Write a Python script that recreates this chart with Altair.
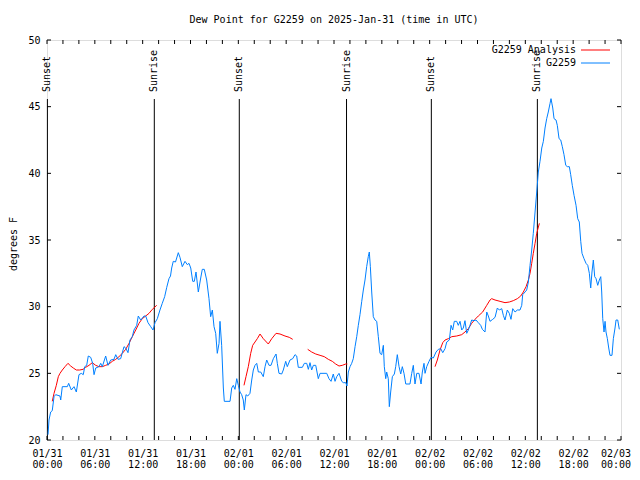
import json
import altair as alt
import pandas as pd

TITLE = "Dew Point for G2259 on 2025-Jan-31 (time in UTC)"
Y_TITLE = "degrees F"
MONO = "DejaVu Sans Mono"

# hours since 2025-01-31 00:00 UTC
obs_hours = [0.13, 0.25, 0.46, 0.66, 0.88, 1.09, 1.63, 1.72, 1.92, 2.55, 2.72, 3.05, 3.39, 3.68,
             4.01, 4.30, 4.55, 4.73, 4.98, 5.18, 5.48, 5.73, 5.90, 6.11, 6.52, 6.74, 6.94, 7.36,
             7.65, 7.99, 8.40, 8.62, 8.91, 9.24, 9.66, 9.87, 10.16, 10.41, 10.70, 10.91, 11.25,
             11.45, 11.75, 12.17, 12.38, 12.67, 13.01, 13.30, 13.55, 13.84, 14.17, 14.46, 14.76,
             15.02, 15.30, 15.49, 15.64, 15.84, 16.12, 16.47, 16.68, 16.97, 17.31, 17.60, 17.81,
             18.03, 18.28, 18.48, 18.69, 18.98, 19.28, 19.48, 19.73, 20.03, 20.32, 20.53, 20.74,
             20.95, 21.16, 21.36, 21.58, 21.70, 21.91, 22.12, 22.24, 22.96, 23.17, 23.37, 23.58,
             23.80, 24.00, 24.21, 24.42, 24.62, 24.75, 24.96, 25.18, 25.46, 25.68, 25.88, 26.09,
             26.31, 26.51, 26.81, 27.13, 27.35, 27.56, 27.85, 28.10, 28.39, 28.73, 28.89, 29.10,
             29.44, 29.64, 29.94, 30.14, 30.48, 30.82, 31.11, 31.32, 31.52, 32.03, 32.28, 32.58,
             32.78, 32.99, 33.20, 33.41, 33.71, 34.03, 34.25, 35.09, 35.37, 35.63, 35.91, 36.13,
             36.34, 36.63, 36.97, 37.17, 37.47, 37.63, 37.80, 38.01, 38.22, 38.42, 38.64, 38.85,
             39.05, 39.26, 39.48, 39.68, 39.89, 40.10, 40.30, 40.43, 40.56, 40.73, 40.93, 41.14,
             41.36, 41.56, 41.77, 41.98, 42.19, 42.31, 42.49, 42.61, 42.81, 42.94, 43.11, 43.32,
             43.57, 43.74, 43.94, 44.16, 44.37, 44.57, 44.78, 45.00, 45.53, 45.75, 45.95, 46.16,
             46.38, 46.66, 46.92, 47.08, 47.29, 47.42, 47.63, 47.92, 48.17, 48.46, 48.80, 49.09,
             49.39, 49.64, 49.93, 50.14, 50.47, 50.68, 50.89, 51.09, 51.39, 51.59, 51.81, 52.02,
             52.22, 52.43, 52.65, 52.85, 53.06, 53.27, 53.56, 53.81, 54.10, 54.40, 54.61, 54.94,
             55.16, 55.36, 55.57, 55.91, 56.20, 56.49, 56.74, 57.04, 57.24, 57.45, 57.74, 57.99,
             58.20, 58.42, 58.71, 59.00, 59.33, 59.55, 59.67, 59.96, 60.17, 60.38, 60.59, 60.80,
             61.00, 61.22, 61.43, 61.63, 61.84, 62.06, 62.26, 62.47, 62.68, 62.88, 63.10, 63.22,
             63.44, 63.60, 63.85, 64.01, 64.23, 64.44, 64.64, 64.85, 65.07, 65.27, 65.52, 65.69,
             65.89, 66.11, 66.36, 66.57, 66.77, 66.95, 67.11, 67.36, 67.61, 67.83, 68.03, 68.20,
             68.36, 68.53, 68.70, 68.87, 69.08, 69.28, 69.46, 69.58, 69.71, 69.87, 70.00, 70.12,
             70.29, 70.46, 70.62, 70.87, 71.04, 71.25, 71.38, 71.59, 71.79]
obs_values = [20.4, 21.5, 22.1, 22.2, 23.25, 23.4, 23.3, 23.0, 24.0, 24.0, 24.25, 23.75, 24.0, 23.6,
              24.9, 25.0, 24.9, 25.5, 25.6, 26.3, 26.2, 25.75, 24.9, 25.4, 25.5, 25.75, 25.5, 26.3,
              25.6, 26.0, 26.05, 26.4, 26.05, 26.1, 27.0, 26.9, 26.55, 27.5, 27.75, 28.25, 28.6,
              29.3, 29.0, 29.3, 29.3, 28.8, 28.5, 28.25, 28.8, 29.1, 29.75, 30.25, 30.75,
              31.45, 32.1, 32.3, 32.9, 33.4, 33.35, 34.05, 33.7, 33.0, 33.4, 33.15, 33.25,
              32.9, 31.9, 31.9, 32.6, 31.1, 32.15, 32.8, 32.8, 32.0, 30.6, 29.25, 29.75,
              28.5, 28.0, 26.5, 27.25, 28.9, 27.1, 23.9, 22.9, 22.9, 23.9, 24.1, 23.8,
              24.6, 24.1, 23.6, 23.4, 23.0, 22.25, 23.4, 23.3, 23.5, 24.5, 25.25, 25.6,
              25.75, 25.1, 25.1, 24.75, 25.5, 26.0, 25.6, 25.6, 26.1, 26.45, 25.75, 25.0,
              24.95, 25.25, 25.9, 25.5, 26.0, 26.1, 26.4, 26.3, 25.45, 25.45, 25.75, 25.75,
              25.3, 25.8, 25.25, 25.6, 25.6, 24.6, 25.0, 25.0, 24.6, 24.4, 24.95, 24.4,
              24.75, 25.0, 24.4, 24.3, 24.3, 24.05, 25.1, 25.5, 25.75, 26.1, 27.0, 27.75,
              28.6, 29.4, 30.4, 31.25, 32.0, 33.0, 33.75, 34.1, 33.0, 31.1, 29.25, 29.0,
              28.9, 27.75, 26.5, 26.4, 27.1, 25.5, 24.6, 25.1, 24.6, 22.5, 23.6, 24.75,
              24.95, 25.5, 26.4, 25.5, 24.95, 25.5, 25.0, 24.2, 24.2, 25.0, 25.6, 24.2,
              25.0, 25.0, 24.2, 25.1, 25.75, 25.0, 25.5, 25.9, 26.2, 26.15, 26.6, 26.8,
              26.85, 26.55, 26.85, 27.35, 27.5, 28.6, 28.25, 28.9, 28.9, 28.6, 28.9, 28.25,
              28.4, 28.95, 28.0, 28.25, 28.6, 29.0, 28.95, 29.0, 28.8, 28.6, 28.3, 28.1,
              29.6, 29.3, 28.9, 29.05, 29.2, 29.9, 29.75, 29.85, 29.35, 29.0, 29.75, 29.5,
              29.05, 29.85, 29.6, 29.75, 29.75, 30.1, 30.9, 31.1, 31.25, 31.85, 33.1, 34.25,
              35.5, 37.1, 38.6, 40.1, 40.9, 41.9, 42.4, 43.4, 44.1, 44.6, 45.25, 45.6,
              44.9, 44.1, 44.0, 43.6, 42.6, 42.5, 42.0, 41.4, 40.6, 40.5, 40.5, 39.9,
              39.1, 38.35, 37.6, 36.6, 36.35, 34.9, 34.0, 33.6, 33.25, 33.1, 32.5, 31.4,
              32.6, 33.5, 32.25, 32.1, 31.6, 32.0, 32.25, 31.1, 29.1, 28.1, 28.9, 28.1,
              27.6, 26.9, 26.35, 26.35, 27.6, 28.4, 29.0, 29.0, 28.3]

ana_hours = [0.66, 0.88, 1.17, 1.42, 1.63, 1.92, 2.26, 2.63, 2.97, 3.30, 3.68, 4.10, 4.52, 4.85,
             5.27, 5.68, 6.11, 6.52, 6.94, 7.36, 7.78, 8.19, 8.62, 9.03, 9.45, 9.87, 10.29, 10.70,
             11.13, 11.54, 11.95, 12.38, 12.80, 13.21, 13.76,
             24.71, 24.96, 25.25, 25.55, 25.80, 26.09, 26.38, 26.72, 27.13, 27.76, 28.19, 28.73,
             29.23, 29.85, 30.39, 30.82,
             32.70, 33.20, 33.71, 34.25, 34.78, 35.29, 35.79, 36.21, 36.63, 37.04, 37.47, 37.67,
             48.67, 48.96, 49.30, 49.64, 49.93, 50.34, 50.77, 51.39, 52.02, 52.43, 52.85, 53.27,
             53.69, 54.10, 54.65, 55.16, 55.57, 55.78, 56.20, 56.83, 57.45, 57.99, 58.49, 59.00,
             59.42, 59.75, 60.09, 60.38, 60.59, 60.80, 61.00, 61.22, 61.43, 61.76]
ana_values = [22.9, 23.5, 24.1, 24.75, 25.0, 25.25, 25.5, 25.75, 25.55, 25.4, 25.25, 25.25, 25.3, 25.45,
              25.6, 25.8, 25.6, 25.5, 25.5, 25.6, 25.7, 25.9, 26.05, 26.25, 26.5, 26.8, 27.25, 27.75,
              28.25, 28.75, 29.1, 29.3, 29.5, 29.8, 30.1,
              24.1, 24.75, 25.5, 26.5, 27.1, 27.35, 27.6, 27.95, 27.6, 27.2, 27.6, 28.0,
              27.95, 27.8, 27.7, 27.55,
              26.8, 26.6, 26.45, 26.35, 26.25, 26.05, 25.9, 25.7, 25.55, 25.6, 25.7, 25.7,
              25.5, 26.0, 26.75, 27.3, 27.5, 27.6, 27.75, 27.8, 27.9, 28.1, 28.35, 28.75,
              29.05, 29.3, 29.6, 30.1, 30.5, 30.6, 30.5, 30.4, 30.3, 30.35, 30.45, 30.6,
              30.8, 31.1, 31.5, 32.0, 32.5, 33.25, 34.0, 34.75, 35.5, 36.25]
ana_segment_lengths = [35, 16, 12, 34]

sun_hours = [0.05, 13.46, 24.12, 37.57, 48.21, 61.51]
sun_labels = ["Sunset", "Sunrise", "Sunset", "Sunrise", "Sunset", "Sunrise"]

series_names = ["G2259 Analysis", "G2259"]
series_colors = ["#ff0000", "#0080ff"]

y_ticks = [20, 25, 30, 35, 40, 45, 50]
x_minor_ticks = list(range(0, 73, 2))
x_label_hours = list(range(0, 73, 6))
day_labels = ["01/31", "02/01", "02/02", "02/03"]

W, H = 574, 400

ana_segment = []
for i, n in enumerate(ana_segment_lengths):
    ana_segment += [i + 1] * n

obs = pd.DataFrame({"h": obs_hours, "v": obs_values})
obs["series"] = series_names[1]
obs["seg"] = 0
ana = pd.DataFrame({"h": ana_hours, "v": ana_values, "seg": ana_segment})
ana["series"] = series_names[0]
sun = pd.DataFrame({"h": sun_hours, "label": sun_labels})
xt = pd.DataFrame({"h": x_minor_ticks})
yt = pd.DataFrame({"v": y_ticks})
one = pd.DataFrame({"a": [0]})
last_h = x_label_hours[-1]
last_lab = pd.DataFrame({"h": [last_h],
                         "day": [day_labels[last_h // 24]],
                         "hm": ["%02d:00" % (last_h % 24)]})

label_expr = ("[" + json.dumps(day_labels) + "[floor(datum.value/24)], "
              "(datum.value%24<10 ? '0' : '') + (datum.value%24) + ':00']")

xscale = alt.Scale(domain=[0, 72], nice=False, zero=False)
yscale = alt.Scale(domain=[20, 50], nice=False, zero=False)
xaxis = alt.Axis(values=x_label_hours[:-1], labelExpr=label_expr, title=None, ticks=False,
                 domain=False, grid=False, labelPadding=8, labelLineHeight=11,
                 labelFlush=False, labelOverlap=False, labelBound=False,
                 labelFont=MONO, labelFontSize=10, labelColor="black", labelBaseline="top")
yaxis = alt.Axis(values=y_ticks, title=None, ticks=False, domain=False, grid=False,
                 labelPadding=7, labelFlush=False, labelOverlap=False,
                 labelFont=MONO, labelFontSize=10, labelColor="black")

color = alt.Color("series:N", scale=alt.Scale(domain=series_names, range=series_colors), legend=None)

sun_lines = alt.Chart(sun).mark_rule(color="black", strokeWidth=1).encode(
    x=alt.X("h:Q", scale=xscale, axis=xaxis), y=alt.value(59), y2=alt.value(H))
sun_text = alt.Chart(sun).mark_text(angle=270, align="left", baseline="middle",
                                    font=MONO, fontSize=10, color="black").encode(
    x="h:Q", y=alt.value(52), text="label:N")

ana_line = alt.Chart(ana).mark_line(strokeWidth=1).encode(
    x=alt.X("h:Q", scale=xscale, axis=xaxis),
    y=alt.Y("v:Q", scale=yscale, axis=yaxis), color=color, detail="seg:N")
obs_line = alt.Chart(obs).mark_line(strokeWidth=1).encode(
    x="h:Q", y="v:Q", color=color, detail="seg:N")

tick_b = alt.Chart(xt).mark_rule(color="black").encode(x="h:Q", y=alt.value(H), y2=alt.value(H - 4))
tick_t = alt.Chart(xt).mark_rule(color="black").encode(x="h:Q", y=alt.value(0), y2=alt.value(4))
tick_l = alt.Chart(yt).mark_rule(color="black").encode(y="v:Q", x=alt.value(0), x2=alt.value(4))
tick_r = alt.Chart(yt).mark_rule(color="black").encode(y="v:Q", x=alt.value(W - 4), x2=alt.value(W))

# last x label, kept inside the page
last_day = alt.Chart(last_lab).mark_text(font=MONO, fontSize=10, color="black", align="center",
                                         baseline="top", dx=-5).encode(
    x="h:Q", y=alt.value(H + 9), text="day:N")
last_hm = alt.Chart(last_lab).mark_text(font=MONO, fontSize=10, color="black", align="center",
                                        baseline="top", dx=-5).encode(
    x="h:Q", y=alt.value(H + 20), text="hm:N")

title = alt.Chart(one).mark_text(font=MONO, fontSize=10, color="black", align="center",
                                 baseline="middle").encode(
    x=alt.value(W / 2), y=alt.value(-20), text=alt.value(TITLE))
ytitle = alt.Chart(one).mark_text(font=MONO, fontSize=10, color="black", align="center",
                                  baseline="middle", angle=270).encode(
    x=alt.value(-33), y=alt.value(204), text=alt.value(Y_TITLE))

leg_layers = []
for i, (name, col) in enumerate(zip(series_names, series_colors)):
    yy = 10 + 13 * i
    leg_layers.append(alt.Chart(one).mark_text(font=MONO, fontSize=10, color="black",
                                               align="right", baseline="middle").encode(
        x=alt.value(529), y=alt.value(yy), text=alt.value(name)))
    leg_layers.append(alt.Chart(one).mark_rule(color=col, strokeWidth=1).encode(
        x=alt.value(534), x2=alt.value(563), y=alt.value(yy)))

chart = alt.layer(sun_lines, sun_text, ana_line, obs_line, tick_b, tick_t, tick_l, tick_r,
                  last_day, last_hm, title, ytitle, *leg_layers).properties(
    width=W, height=H,
    autosize=alt.AutoSizeParams(type="none"),
    padding={"left": 39, "top": 32, "right": 11, "bottom": 32},
).configure_view(stroke="black", strokeWidth=1).configure(background="white")

chart.save("out.html", embed_options={"renderer": "svg", "actions": False})
